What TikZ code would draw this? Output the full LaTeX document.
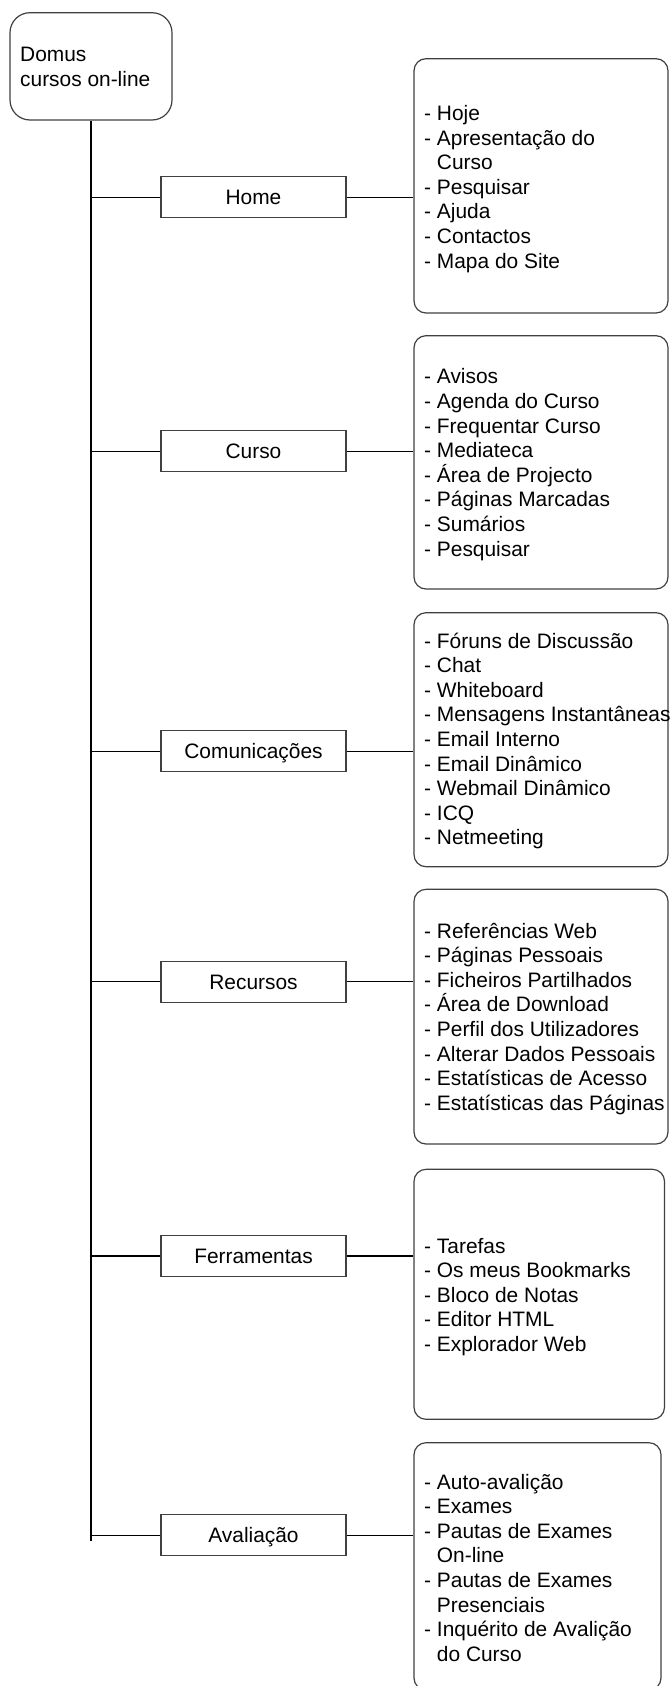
\documentclass[tikz,border=0pt]{standalone}
\usepackage{fontspec}
\setmainfont{Liberation Sans}
\begin{document}
\begin{tikzpicture}[x=1pt,y=-1pt,
  txt/.style={font=\fontsize{20.9}{24.6}\selectfont},
  rootbox/.style={draw=black!75, line width=1.2pt, rounded corners=20pt, minimum width=162pt, minimum height=107.3pt, inner sep=0pt},
  branch/.style={draw=black!75, line width=1.2pt, minimum width=185pt, minimum height=41pt, inner sep=0pt, text height=15pt, text depth=0pt, txt},
  listbox/.style={draw=black!75, line width=1.2pt, rounded corners=12pt, minimum width=254pt, minimum height=254pt, inner sep=0pt},
  items/.style={txt, align=left, inner sep=0pt, anchor=base west},
  trunkline/.style={line width=2pt, black},
  link/.style={line width=1.2pt, black}]
\useasboundingbox (0,0) rectangle (671,1686);

% root
\node[rootbox] (root) at (91,66.35) {};
\node[items] (roottext) at (20,86) {Domus\\cursos on-line};
\coordinate (trunkend) at (91,1541);
\draw[trunkline] (root.south) -- (trunkend);

% branch boxes
\node[branch] (home)  at (253.5,197.2)  {Home};
\node[branch] (curso) at (253.5,451.3)  {Curso};
\node[branch] (com)   at (253.5,751.2)  {Comunicações};
\node[branch] (rec)   at (253.5,981.7)  {Recursos};
\node[branch] (ferr)  at (253.5,1255.9) {Ferramentas};
\node[branch] (aval)  at (253.5,1535.3) {Avaliação};

% list boxes
\node[listbox, minimum height=254.3pt] (homelist)  at (541,185.85) {};
\node[listbox, minimum height=253.3pt] (cursolist) at (541,462.35) {};
\node[listbox, minimum height=254pt]   (comlist)   at (541,739.7) {};
\node[listbox, minimum height=254.7pt] (reclist)   at (541,1016.65) {};
\node[listbox, minimum width=250.5pt, minimum height=250pt] (ferrlist) at (539.25,1294.3) {};
\node[listbox, minimum width=247pt, minimum height=247.3pt] (avallist) at (537.5,1566.35) {};

% list texts (anchored at the baseline of the last line)
\node[items] (homeitems) at (424,268.1) {- Hoje\\- Apresentação do\\\hphantom{- }Curso\\- Pesquisar\\- Ajuda\\- Contactos\\- Mapa do Site};
\node[items] (cursoitems) at (424,556) {- Avisos\\- Agenda do Curso\\- Frequentar Curso\\- Mediateca\\- Área de Projecto\\- Páginas Marcadas\\- Sumários\\- Pesquisar};
\node[items] (comitems) at (424,844.8) {- Fóruns de Discussão\\- Chat\\- Whiteboard\\- Mensagens Instantâneas\\- Email Interno\\- Email Dinâmico\\- Webmail Dinâmico\\- ICQ\\- Netmeeting};
\node[items] (recitems) at (424,1110.2) {- Referências Web\\- Páginas Pessoais\\- Ficheiros Partilhados\\- Área de Download\\- Perfil dos Utilizadores\\- Alterar Dados Pessoais\\- Estatísticas de Acesso\\- Estatísticas das Páginas};
\node[items] (ferritems) at (424,1351.4) {- Tarefas\\- Os meus Bookmarks\\- Bloco de Notas\\- Editor HTML\\- Explorador Web};
\node[items] (avalitems) at (424,1661.2) {- Auto-avalição\\- Exames\\- Pautas de Exames\\\hphantom{- }On-line\\- Pautas de Exames\\\hphantom{- }Presenciais\\- Inquérito de Avalição\\\hphantom{- }do Curso};

% connectors
\foreach \b/\l in {home/homelist, curso/cursolist, com/comlist, rec/reclist, ferr/ferrlist, aval/avallist}{
  \draw[link] (\b.west -| root.south) -- (\b.west);
  \draw[link] (\b.east) -- (\b.east -| \l.west);
}
\end{tikzpicture}
\end{document}
